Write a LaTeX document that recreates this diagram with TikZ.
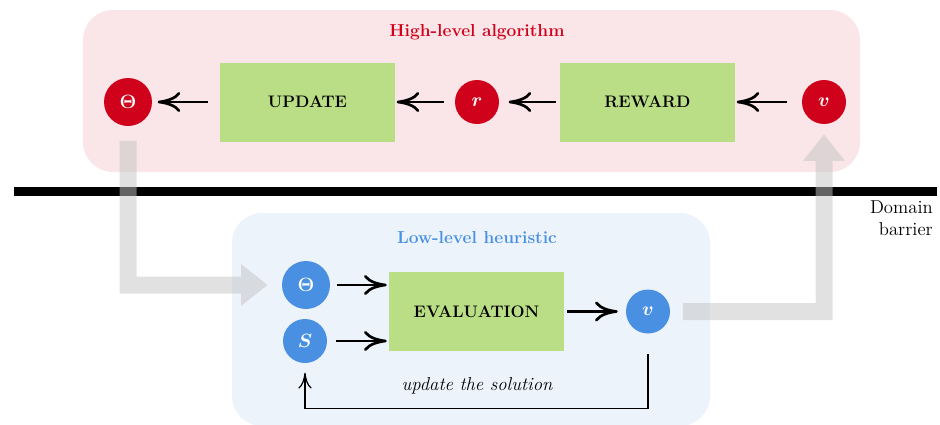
\documentclass[tikz,border=0pt]{standalone}
\usepackage{amsmath}
\usepackage{bm}
\usepackage[no-math]{fontspec}
\usetikzlibrary{arrows.meta}
\definecolor{hired}{RGB}{208,2,27}
\definecolor{hipink}{RGB}{250,229,232}
\definecolor{loblue}{RGB}{74,144,226}
\definecolor{lobg}{RGB}{236,243,251}
\definecolor{stepgreen}{RGB}{186,222,134}
\definecolor{flowgray}{RGB}{196,196,196}

\tikzset{
  hicirc/.style={circle, fill=hired, text=white, minimum size=33pt, inner sep=0pt},
  locirc/.style={circle, fill=loblue, text=white, minimum size=33pt, inner sep=0pt},
  stepbox/.style={fill=stepgreen, minimum width=131.25pt, minimum height=59.25pt, inner sep=0pt, font=\fontsize{12.5}{15}\selectfont\bfseries},
  titletext/.style={font=\fontsize{13}{16}\selectfont\bfseries},
  flow/.style={-{To[length=17pt,width=15pt]}, line width=2pt},
  bigflow/.style={-{Triangle[length=20pt,width=30pt]}, line width=12.75pt, draw=flowgray},
}

\begin{document}
\begin{tikzpicture}[x=0.75pt,y=0.75pt,yscale=-1,xscale=1, font=\fontsize{14}{17}\selectfont]
\useasboundingbox (0,0) rectangle (940,425);
%Shape: High-level panel
\fill [hipink, rounded corners=22.5pt] (83,10) rectangle (860,172);
%Shape: Low-level panel
\fill [lobg, rounded corners=22.5pt] (232,213) rectangle (710,426);
%Shape: Domain barrier
\coordinate (barL) at (14,191.5);
\coordinate (barR) at (937,191.5);
\draw [line width=6.75pt] (barL) -- (barR);
\node (barrier) [anchor=north east, inner sep=0pt, align=right] at (933,200) {Domain\\barrier};
%Titles
\node (hititle) [titletext, text=hired] at (477,32) {High-level algorithm};
\node (lotitle) [titletext, text=loblue] at (477,238) {Low-level heuristic};
%High-level nodes
\node (thH) [hicirc, minimum size=36pt] at (128,102) {$\mathbf{\Theta}$};
\node (update) [stepbox] at (307.5,102) {UPDATE};
\node (r) [hicirc] at (477,102) {$\bm{r}$};
\node (reward) [stepbox] at (647.5,102) {REWARD};
\node (vH) [hicirc] at (824,102) {$\bm{v}$};
%Low-level nodes
\node (thL) [locirc, minimum size=36pt] at (306,285) {$\mathbf{\Theta}$};
\node (S) [locirc] at (305,341) {$\bm{S}$};
\node (eval) [stepbox] at (476.5,311.5) {EVALUATION};
\node (vL) [locirc] at (648,311.5) {$\bm{v}$};
\node (fbtext) [font=\fontsize{14}{17}\selectfont\itshape] at (477,386) {update the solution};
%Gray transfer arrows
\begin{scope}[transparency group, opacity=0.5]
\draw [bigflow, shorten <=11pt, shorten >=10.5pt] (thH.south) |- (thL.west);
\draw [bigflow, shorten <=9.5pt, shorten >=7.5pt] (vL.east) -| (vH.south);
\end{scope}
%Flow arrows
\draw [flow, shorten <=9pt, shorten >=4pt] (update.west) -- (thH.east);
\draw [flow, shorten <=8pt, shorten >=1pt] (r.west) -- (update.east);
\draw [flow, shorten <=3pt, shorten >=7pt] (reward.west) -- (r.east);
\draw [flow, shorten <=11pt, shorten >=1pt] (vH.west) -- (reward.east);
\draw [flow, shorten <=5pt, shorten >=1.5pt] (thL.east) -- (thL.east -| eval.west);
\draw [flow, shorten <=6.5pt, shorten >=1.5pt] (S.east) -- (S.east -| eval.west);
\draw [flow, shorten <=2pt, shorten >=6pt] (eval.east) -- (vL.west);
\draw [-{To[length=12pt,width=10pt]}, line width=0.9pt, shorten <=15pt, shorten >=7pt] (vL.south) -- ++(0,75) -| (S.south);
\end{tikzpicture}
\end{document}
